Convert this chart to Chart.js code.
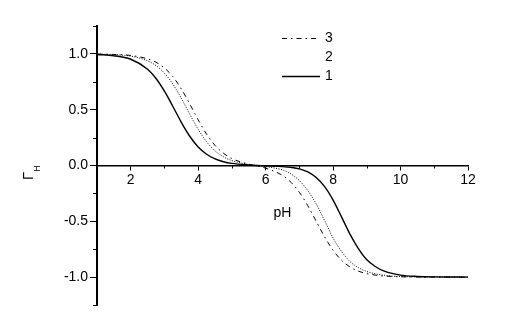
<!DOCTYPE html>
<html>
<head>
<meta charset="utf-8">
<script src="https://cdn.jsdelivr.net/npm/chart.js@4.4.0/dist/chart.umd.min.js"></script>
<style>
  html, body { margin: 0; padding: 0; background: #fff; }
  #wrap { width: 514px; height: 322px; }
</style>
</head>
<body>
<div id="wrap"><canvas id="myChart" width="514" height="322"></canvas></div>
<script>
// pH grid shared by the three curves
const phValues = [1, 1.5, 2, 2.5, 2.75, 3, 3.25, 3.5, 3.75, 4, 4.25, 4.5, 4.75, 5, 5.5, 6,
  6.5, 6.75, 7, 7.25, 7.5, 7.75, 8, 8.25, 8.5, 8.75, 9, 9.25, 9.5, 10, 10.5, 11, 12];

const gamma1 = [0.995, 0.984, 0.952, 0.863, 0.780, 0.666, 0.529, 0.387, 0.262, 0.166, 0.101, 0.059, 0.034, 0.019, 0.005, -0.003,
  -0.010, -0.017, -0.030, -0.058, -0.108, -0.190, -0.310, -0.460, -0.615, -0.745, -0.845, -0.905, -0.945, -0.982, -0.994, -0.998, -1.0];
const gamma2 = [0.998, 0.993, 0.980, 0.938, 0.895, 0.827, 0.729, 0.602, 0.460, 0.324, 0.212, 0.131, 0.078, 0.044, 0.009, -0.010,
  -0.040, -0.075, -0.135, -0.225, -0.345, -0.495, -0.650, -0.770, -0.860, -0.915, -0.950, -0.970, -0.983, -0.995, -0.998, -0.999, -1.0];
const gamma3 = [0.999, 0.995, 0.986, 0.956, 0.925, 0.874, 0.796, 0.686, 0.552, 0.409, 0.280, 0.180, 0.110, 0.062, 0.012, -0.024,
  -0.089, -0.150, -0.240, -0.360, -0.500, -0.640, -0.760, -0.849, -0.909, -0.947, -0.969, -0.982, -0.990, -0.997, -0.999, -1.0, -1.0];

const seriesLabels = ["1", "2", "3"];
const xTicks = [2, 4, 6, 8, 10, 12];
const xMinorTicks = [3, 5, 7, 9, 11];
const yTicks = [-1.0, -0.5, 0.0, 0.5, 1.0];
const yMinorTicks = [-1.25, -0.75, -0.25, 0.25, 0.75, 1.25];

const FONT = "Liberation Sans, Arial, sans-serif";

function toPoints(ys) {
  return phValues.map((x, i) => ({ x: x, y: ys[i] }));
}

// minor ticks, axis titles and the legend drawn on top
const extras = {
  id: "extras",
  afterDraw(chart) {
    const ctx = chart.ctx;
    const xs = chart.scales.x;
    const ys = chart.scales.y;
    const y0 = ys.getPixelForValue(0);
    const left = chart.chartArea.left;
    ctx.save();
    ctx.strokeStyle = "#000";
    ctx.lineWidth = 1;
    ctx.beginPath();
    xMinorTicks.forEach(v => {
      const px = Math.round(xs.getPixelForValue(v)) + 0.5;
      ctx.moveTo(px, y0);
      ctx.lineTo(px, y0 + 3);
    });
    yMinorTicks.forEach(v => {
      const py = Math.round(ys.getPixelForValue(v)) + 0.5;
      ctx.moveTo(left - 4, py);
      ctx.lineTo(left, py);
    });
    ctx.stroke();

    ctx.fillStyle = "#000";
    // pH label
    ctx.font = "14px " + FONT;
    ctx.textAlign = "center";
    ctx.textBaseline = "middle";
    ctx.fillText("pH", xs.getPixelForValue(6.5), ys.getPixelForValue(-0.43));

    // Gamma_H, rotated
    ctx.save();
    ctx.translate(33, 180);
    ctx.rotate(-Math.PI / 2);
    ctx.textAlign = "left";
    ctx.textBaseline = "alphabetic";
    ctx.font = "15px " + FONT;
    ctx.fillText("Γ", 0, 0);
    const w = ctx.measureText("Γ").width;
    ctx.font = "9px " + FONT;
    ctx.fillText("H", w, 7);
    ctx.restore();

    // legend: 3, 2, 1 from top
    const items = [
      { text: seriesLabels[2], dash: [5, 4, 1.5, 4], width: 1, show: true, y: 38 },
      { text: seriesLabels[1], dash: [1, 1.5], width: 1, show: false, y: 57 },
      { text: seriesLabels[0], dash: [], width: 1.4, show: true, y: 76 }
    ];
    ctx.font = "14px " + FONT;
    ctx.textAlign = "left";
    ctx.textBaseline = "middle";
    items.forEach(it => {
      if (it.show) {
        ctx.beginPath();
        ctx.setLineDash(it.dash);
        ctx.lineWidth = it.width;
        ctx.moveTo(282, it.y + 0.5);
        ctx.lineTo(320, it.y + 0.5);
        ctx.stroke();
      }
      ctx.setLineDash([]);
      ctx.fillText(it.text, 325, it.y);
    });
    ctx.restore();
  }
};

const data = {
  datasets: [
    {
      label: seriesLabels[0],
      data: toPoints(gamma1),
      borderColor: "#000",
      borderWidth: 1.4,
      pointRadius: 0,
      cubicInterpolationMode: "monotone"
    },
    {
      label: seriesLabels[1],
      data: toPoints(gamma2),
      borderColor: "#000",
      borderWidth: 1,
      borderDash: [1, 1.5],
      pointRadius: 0,
      cubicInterpolationMode: "monotone"
    },
    {
      label: seriesLabels[2],
      data: toPoints(gamma3),
      borderColor: "#000",
      borderWidth: 1,
      borderDash: [5, 4, 1.5, 4],
      pointRadius: 0,
      cubicInterpolationMode: "monotone"
    }
  ]
};

const config = {
  type: "line",
  data: data,
  options: {
    responsive: false,
    animation: false,
    events: [],
    layout: {
      padding: { top: 26, bottom: 17, right: 46, left: 0 }
    },
    scales: {
      x: {
        type: "linear",
        position: { y: 0 },
        min: 1,
        max: 12,
        afterBuildTicks: scale => { scale.ticks = xTicks.map(v => ({ value: v })); },
        grid: { drawOnChartArea: false, drawTicks: true, tickLength: 4, color: "#000", tickWidth: 1 },
        border: { display: true, color: "#000", width: 1.5 },
        ticks: { color: "#000", font: { family: FONT, size: 14 }, padding: 2, maxRotation: 0 }
      },
      y: {
        type: "linear",
        min: -1.25,
        max: 1.25,
        afterBuildTicks: scale => { scale.ticks = yTicks.map(v => ({ value: v })); },
        afterFit: scale => { scale.width = 97; },
        grid: { drawOnChartArea: false, drawTicks: true, tickLength: 7, color: "#000", tickWidth: 1 },
        border: { display: true, color: "#000", width: 2 },
        ticks: {
          color: "#000",
          font: { family: FONT, size: 14 },
          padding: 2,
          callback: v => v.toFixed(1)
        }
      }
    },
    plugins: {
      legend: { display: false },
      tooltip: { enabled: false }
    }
  },
  plugins: [extras]
};

const myChart = new Chart(document.getElementById("myChart"), config);
</script>
</body>
</html>
